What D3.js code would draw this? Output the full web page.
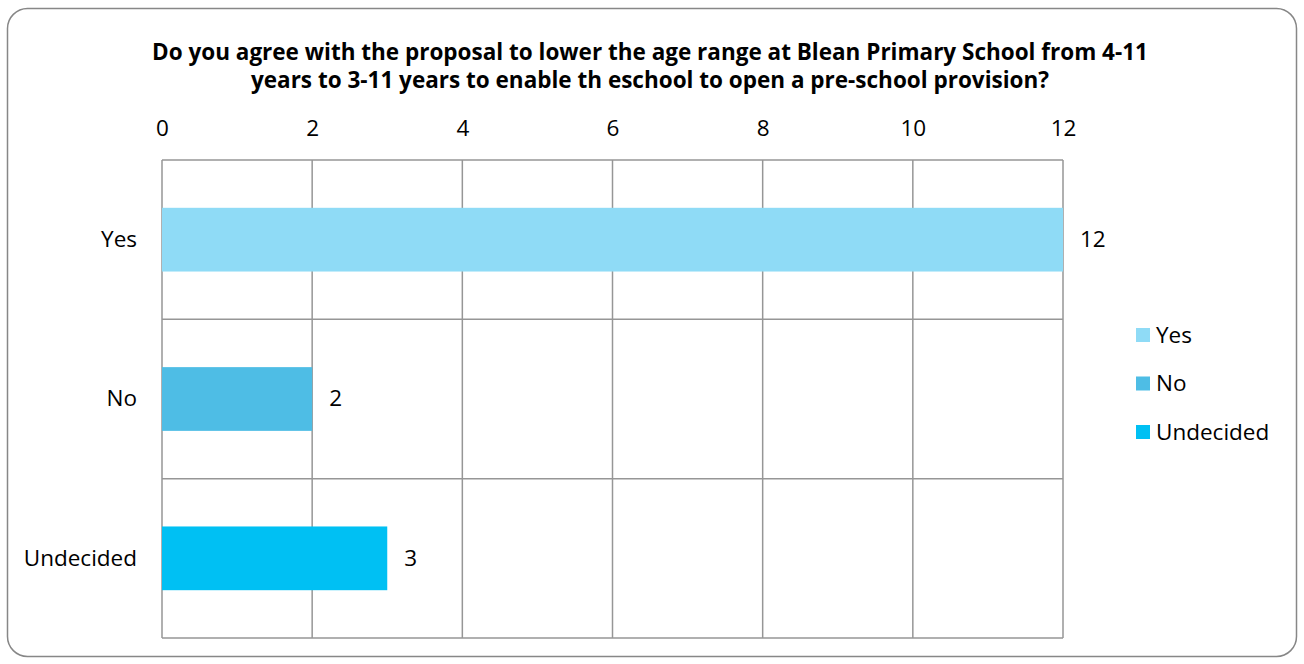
<!DOCTYPE html>
<html>
<head>
<meta charset="utf-8">
<script src="https://cdn.jsdelivr.net/npm/d3@7"></script>
<style>
  body { margin: 0; background: #fff; }
  text { font-family: "Open Sans", "Noto Sans", sans-serif; fill: #000; }
</style>
</head>
<body>
<div id="chart"></div>
<script>
// data
const categories = ["Yes", "No", "Undecided"];
const values = [12, 2, 3];
const colors = ["#8fdbf6", "#4ebde5", "#00c0f3"];
const tickValues = [0, 2, 4, 6, 8, 10, 12];
const titleLines = [
  "Do you agree with the proposal to lower the age range at Blean Primary School from 4-11",
  "years to 3-11 years to enable th eschool to open a pre-school provision?"
];

const width = 1304, height = 664;
const plot = { left: 162, right: 1063, top: 160, bottom: 638 };
const fs = "22.5px";

const svg = d3.select("#chart").append("svg")
  .attr("width", width).attr("height", height);

// outer frame
svg.append("rect")
  .attr("x", 7.5).attr("y", 8.5)
  .attr("width", 1289).attr("height", 648)
  .attr("rx", 20).attr("ry", 20)
  .attr("fill", "#fff").attr("stroke", "#878787").attr("stroke-width", 1.5);

// title
svg.append("g").selectAll("text")
  .data(titleLines)
  .join("text")
  .attr("x", 650)
  .attr("y", (d, i) => 60 + i * 28)
  .attr("text-anchor", "middle")
  .style("font-weight", "bold")
  .style("font-size", "22.5px")
  .text(d => d);

const x = d3.scaleLinear().domain([0, 12]).range([plot.left, plot.right]);
const y = d3.scaleBand().domain(categories).range([plot.top, plot.bottom]).paddingInner(0).paddingOuter(0);

// vertical grid
svg.append("g").selectAll("line")
  .data(tickValues)
  .join("line")
  .attr("x1", d => x(d)).attr("x2", d => x(d))
  .attr("y1", plot.top).attr("y2", plot.bottom)
  .attr("stroke", "#969696").attr("stroke-width", 1.5);

// horizontal grid at category boundaries
const bounds = categories.map(c => y(c)).concat([plot.bottom]);
svg.append("g").selectAll("line")
  .data(bounds)
  .join("line")
  .attr("x1", plot.left).attr("x2", plot.right)
  .attr("y1", d => d).attr("y2", d => d)
  .attr("stroke", "#969696").attr("stroke-width", 1.5);

// top axis labels
const xAxis = d3.axisTop(x).tickValues(tickValues).tickSize(0).tickPadding(0);
const ax = svg.append("g").attr("transform", "translate(0,136)").call(xAxis);
ax.select(".domain").remove();
ax.selectAll("text").style("font-size", fs).attr("font-family", null).attr("dy", 0);

// left category labels
const yAxis = d3.axisLeft(y).tickSize(0).tickPadding(25);
const ay = svg.append("g").attr("transform", `translate(${plot.left},0)`).call(yAxis);
ay.select(".domain").remove();
ay.selectAll("text").style("font-size", fs).attr("font-family", null);

// bars
const bh = y.bandwidth() * 0.4;
svg.append("g").selectAll("rect")
  .data(values)
  .join("rect")
  .attr("x", x(0))
  .attr("y", (d, i) => y(categories[i]) + (y.bandwidth() - bh) / 2)
  .attr("width", d => x(d) - x(0))
  .attr("height", bh)
  .attr("fill", (d, i) => colors[i]);

// value labels
svg.append("g").selectAll("text")
  .data(values)
  .join("text")
  .attr("x", d => x(d) + 17)
  .attr("y", (d, i) => y(categories[i]) + y.bandwidth() / 2)
  .attr("dy", "0.32em")
  .style("font-size", fs)
  .text(d => d);

// legend
const legend = svg.append("g").selectAll("g")
  .data(categories)
  .join("g")
  .attr("transform", (d, i) => `translate(1136,${335 + i * 48.5})`);
legend.append("rect")
  .attr("x", 0).attr("y", -7).attr("width", 14).attr("height", 14)
  .attr("fill", (d, i) => colors[i]);
legend.append("text")
  .attr("x", 20).attr("dy", "0.35em")
  .style("font-size", fs)
  .text(d => d);
</script>
</body>
</html>
